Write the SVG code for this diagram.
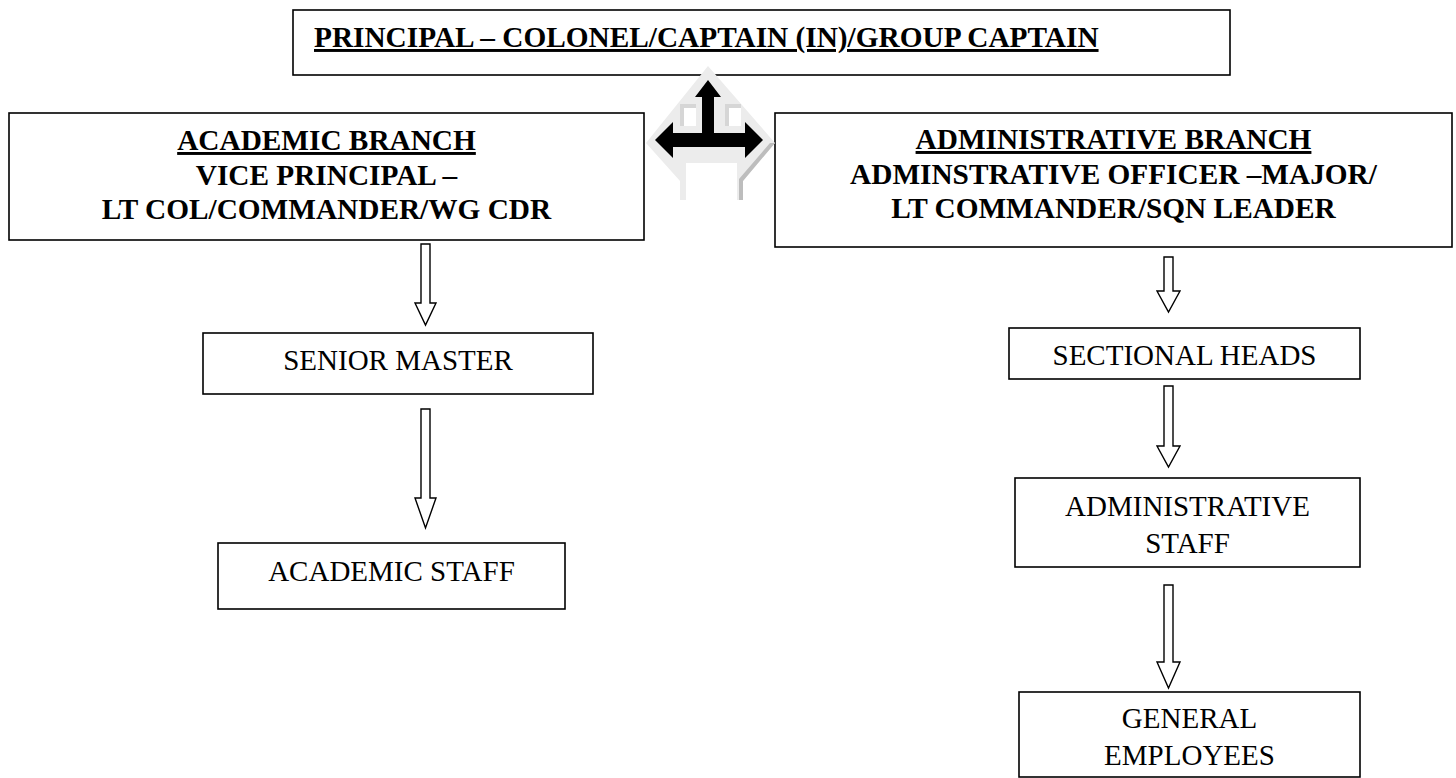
<svg xmlns="http://www.w3.org/2000/svg" width="1456" height="778" viewBox="0 0 1456 778">
<style>
.box{fill:#fff;stroke:#000;stroke-width:1.6}
.b{font-family:"Liberation Serif","Times New Roman",serif;font-weight:bold;font-size:29.3px;fill:#000}
.r{font-family:"Liberation Serif","Times New Roman",serif;font-size:29px;fill:#000}
.u{text-decoration:underline}
.arr{fill:#fff;stroke:#000;stroke-width:1.4;stroke-linejoin:miter}
</style>
<rect width="1456" height="778" fill="#fff"/>
<g id="principal">
<rect class="box" x="293" y="10" width="937" height="65"/>
<text class="b u" x="314" y="47">PRINCIPAL – COLONEL/CAPTAIN (IN)/GROUP CAPTAIN</text>
</g>
<g id="academic-branch">
<rect class="box" x="9" y="113" width="635" height="127"/>
<text class="b" text-anchor="middle" x="326.5"><tspan class="u" x="326.5" y="150">ACADEMIC BRANCH</tspan><tspan x="326.5" y="185">VICE PRINCIPAL –</tspan><tspan x="326.5" y="219">LT COL/COMMANDER/WG CDR</tspan></text>
</g>
<g id="admin-branch">
<rect class="box" x="775" y="113" width="677" height="134"/>
<text class="b" text-anchor="middle" x="1113.5"><tspan class="u" x="1113.5" y="149">ADMINISTRATIVE BRANCH</tspan><tspan x="1113.5" y="184">ADMINSTRATIVE OFFICER –MAJOR/</tspan><tspan x="1113.5" y="218">LT COMMANDER/SQN LEADER</tspan></text>
</g>
<g id="senior-master">
<rect class="box" x="203" y="333" width="390" height="61"/>
<text class="r" text-anchor="middle" x="398" y="370">SENIOR MASTER</text>
</g>
<g id="academic-staff">
<rect class="box" x="218" y="543" width="347" height="66"/>
<text class="r" text-anchor="middle" x="391.5" y="581">ACADEMIC STAFF</text>
</g>
<g id="sectional-heads">
<rect class="box" x="1009" y="328" width="351" height="51"/>
<text class="r" text-anchor="middle" x="1184.5" y="365">SECTIONAL HEADS</text>
</g>
<g id="admin-staff">
<rect class="box" x="1015" y="478" width="345" height="89"/>
<text class="r" text-anchor="middle" x="1187.5"><tspan x="1187.5" y="516">ADMINISTRATIVE</tspan><tspan x="1187.5" y="553">STAFF</tspan></text>
</g>
<g id="general-employees">
<rect class="box" x="1019" y="692" width="341" height="85"/>
<text class="r" text-anchor="middle" x="1189.5"><tspan x="1189.5" y="728">GENERAL</tspan><tspan x="1189.5" y="765">EMPLOYEES</tspan></text>
</g>
<g id="connectors">
<g id="three-way-arrow">
<polygon points="708,66 775,143 743,181 743,200 680,200 680,181 646,143" fill="#ececec"/>
<polygon points="775,143 743,181 743,200 739,200 739,179 770,143" fill="#bdbdbd"/>
<rect x="686" y="163" width="51" height="37" fill="#fff"/>
<rect x="680" y="104" width="16" height="22" fill="#d6d6d6"/>
<rect x="684" y="108" width="12" height="18" fill="#fff"/>
<rect x="725" y="104" width="16" height="22" fill="#d6d6d6"/>
<rect x="729" y="108" width="12" height="18" fill="#fff"/>
<polygon points="708,80 721,97 714,97 714,133 745,133 745,122 763,140 745,158 745,147 673,147 673,158 655,140 673,122 673,133 702,133 702,97 695,97" fill="#000"/>
</g>
<path class="arr" d="M421,244 H430 V303 H436 L425.5,325 L415,303 H421 Z"/>
<path class="arr" d="M421,409 H430 V498 H436 L425.5,528 L415,498 H421 Z"/>
<path class="arr" d="M1164,257 H1173 V291 H1180 L1168.5,312 L1157,291 H1164 Z"/>
<path class="arr" d="M1164,386 H1173 V446 H1180 L1168.5,467 L1157,446 H1164 Z"/>
<path class="arr" d="M1164,585 H1173 V662 H1180 L1168.5,688 L1157,662 H1164 Z"/>
</g>
</svg>
